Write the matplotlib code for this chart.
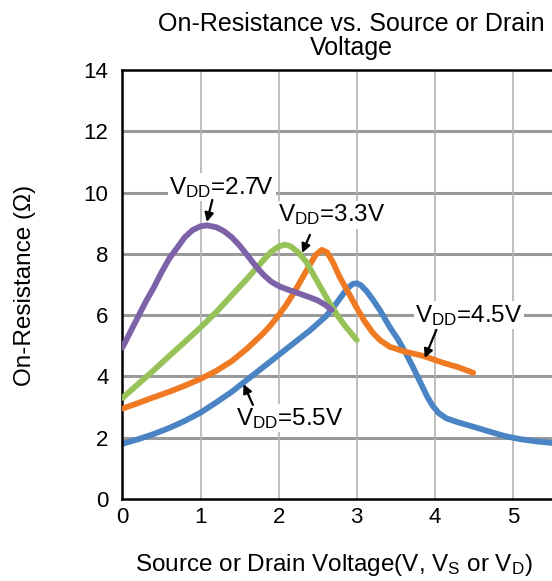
import matplotlib
matplotlib.use('Agg')
import matplotlib.pyplot as plt

# data (x in V, y in ohm)
x_27 = [0, 0.1, 0.2, 0.3, 0.4, 0.5, 0.6, 0.7, 0.8, 0.9, 1.0, 1.08, 1.2, 1.3, 1.4,
        1.5, 1.6, 1.7, 1.8, 1.9, 2.0, 2.1, 2.2, 2.3, 2.4, 2.5, 2.6, 2.68]
r_27 = [4.95, 5.45, 5.95, 6.45, 6.9, 7.4, 7.85, 8.2, 8.55, 8.78, 8.9, 8.93, 8.87, 8.74, 8.54,
        8.27, 7.95, 7.62, 7.33, 7.1, 6.95, 6.85, 6.76, 6.67, 6.58, 6.48, 6.33, 6.17]

x_33 = [0, 0.2, 0.4, 0.6, 0.8, 1.0, 1.2, 1.4, 1.6, 1.8, 1.9, 2.0, 2.08,
        2.15, 2.25, 2.35, 2.45, 2.55, 2.65, 2.75, 2.85, 3.0]
r_33 = [3.3, 3.75, 4.2, 4.67, 5.13, 5.6, 6.1, 6.65, 7.2, 7.78, 8.06, 8.24, 8.3,
        8.25, 8.05, 7.75, 7.3, 6.85, 6.4, 6.0, 5.65, 5.19]

x_45 = [0, 0.2, 0.4, 0.6, 0.8, 1.0, 1.2, 1.4, 1.6, 1.8, 1.9, 2.0, 2.1, 2.2, 2.3, 2.4,
        2.47, 2.55, 2.62, 2.7, 2.78, 2.9, 2.99, 3.1, 3.21, 3.3, 3.42, 3.6, 3.85, 4.1,
        4.3, 4.49]
r_45 = [2.95, 3.13, 3.32, 3.5, 3.7, 3.92, 4.18, 4.5, 4.92, 5.4, 5.68, 6.0, 6.35, 6.75, 7.2, 7.65,
        7.95, 8.13, 8.05, 7.7, 7.25, 6.7, 6.28, 5.8, 5.41, 5.18, 4.97, 4.82, 4.67, 4.45,
        4.3, 4.12]

x_55 = [0, 0.2, 0.4, 0.6, 0.8, 1.0, 1.2, 1.4, 1.6, 1.8, 2.0, 2.2, 2.4, 2.6, 2.7, 2.8,
        2.88, 2.95, 3.0, 3.05, 3.12, 3.21, 3.3, 3.42, 3.53, 3.63, 3.72, 3.8, 3.9, 3.97,
        4.05, 4.15, 4.3, 4.49, 4.7, 4.9, 5.1, 5.3, 5.5]
r_55 = [1.8, 1.95, 2.12, 2.32, 2.55, 2.82, 3.15, 3.5, 3.9, 4.3, 4.7, 5.1, 5.5, 5.95, 6.25, 6.6,
        6.88, 7.02, 7.04, 6.98, 6.8, 6.49, 6.15, 5.62, 5.2, 4.75, 4.3, 3.88, 3.35, 3.05,
        2.8, 2.63, 2.5, 2.36, 2.2, 2.05, 1.95, 1.88, 1.83]

x_ticks = [0, 1, 2, 3, 4, 5]
y_ticks = [0, 2, 4, 6, 8, 10, 12, 14]

plt.rcParams['font.family'] = ['Liberation Sans', 'DejaVu Sans']
plt.rcParams['mathtext.default'] = 'regular'

fig = plt.figure(figsize=(5.52, 5.81), dpi=100)
ax = fig.add_axes([122.5 / 552, 1 - 499 / 581, 1 - 122.5 / 552, 429 / 581])

# grid: thick grey horizontals, thin grey verticals
for y in y_ticks[1:-1]:
    ax.axhline(y, color='#9a9a9a', lw=2.2, zorder=0)
for x in x_ticks[1:]:
    ax.axvline(x, color='#b4b4b4', lw=1.2, zorder=0)

lw = 4.2
ax.plot(x_55, r_55, color='#4a84c4', lw=lw, solid_capstyle='round', solid_joinstyle='round', zorder=2)
ax.plot(x_45, r_45, color='#f07a22', lw=lw, solid_capstyle='round', solid_joinstyle='round', zorder=3)
ax.plot(x_33, r_33, color='#96c258', lw=lw, solid_capstyle='round', solid_joinstyle='round', zorder=4)
ax.plot(x_27, r_27, color='#7e62a8', lw=lw, solid_capstyle='round', solid_joinstyle='round', zorder=5)

ax.set_xlim(0, 5.5)
ax.set_ylim(0, 14)
ax.set_xticks(x_ticks)
ax.set_yticks(y_ticks)
ax.tick_params(length=0, labelsize=16)
ax.tick_params(axis='y', pad=10)
ax.tick_params(axis='x', pad=6)
for s in ['left', 'top', 'bottom']:
    ax.spines[s].set_linewidth(1.8)
    ax.spines[s].set_color('black')
ax.spines['right'].set_visible(False)

box = dict(facecolor='white', edgecolor='none', pad=1)
arrow = dict(arrowstyle='-|>', color='black', lw=1.6, mutation_scale=13, shrinkA=0, shrinkB=0)
fs = 17.5
ax.annotate('V$_{DD}$=2.7V', xy=(1.08, 9.04), xytext=(1.27, 10.18), fontsize=fs,
            ha='center', va='center', bbox=box, zorder=6)
ax.annotate('', xy=(1.08, 9.04), xytext=(1.15, 9.76), arrowprops=arrow, zorder=6)
ax.annotate('V$_{DD}$=3.3V', xy=(2.3, 8.03), xytext=(2.68, 9.27), fontsize=fs,
            ha='center', va='center', bbox=box, zorder=6)
ax.annotate('', xy=(2.3, 8.03), xytext=(2.4, 8.62), arrowprops=arrow, zorder=6)
ax.annotate('V$_{DD}$=4.5V', xy=(3.87, 4.6), xytext=(4.44, 6.0), fontsize=fs,
            ha='center', va='center', bbox=box, zorder=6)
ax.annotate('', xy=(3.87, 4.6), xytext=(4.02, 5.52), arrowprops=arrow, zorder=6)
ax.annotate('V$_{DD}$=5.5V', xy=(1.55, 3.75), xytext=(2.14, 2.64), fontsize=fs,
            ha='center', va='center', bbox=box, zorder=6)
ax.annotate('', xy=(1.55, 3.75), xytext=(1.67, 3.07), arrowprops=arrow, zorder=6)

fig.text(351 / 552, 1 - 36 / 581, 'On-Resistance vs. Source or Drain\nVoltage',
         ha='center', va='center', fontsize=18, linespacing=0.95)
fig.text(334 / 552, 1 - 565 / 581, 'Source or Drain Voltage(V, V$_S$ or V$_D$)',
         ha='center', va='center', fontsize=fs)
fig.text(25 / 552, 1 - 285 / 581, 'On-Resistance (Ω)', rotation=90,
         ha='center', va='center', fontsize=fs)

fig.savefig('out.png', dpi=100)
